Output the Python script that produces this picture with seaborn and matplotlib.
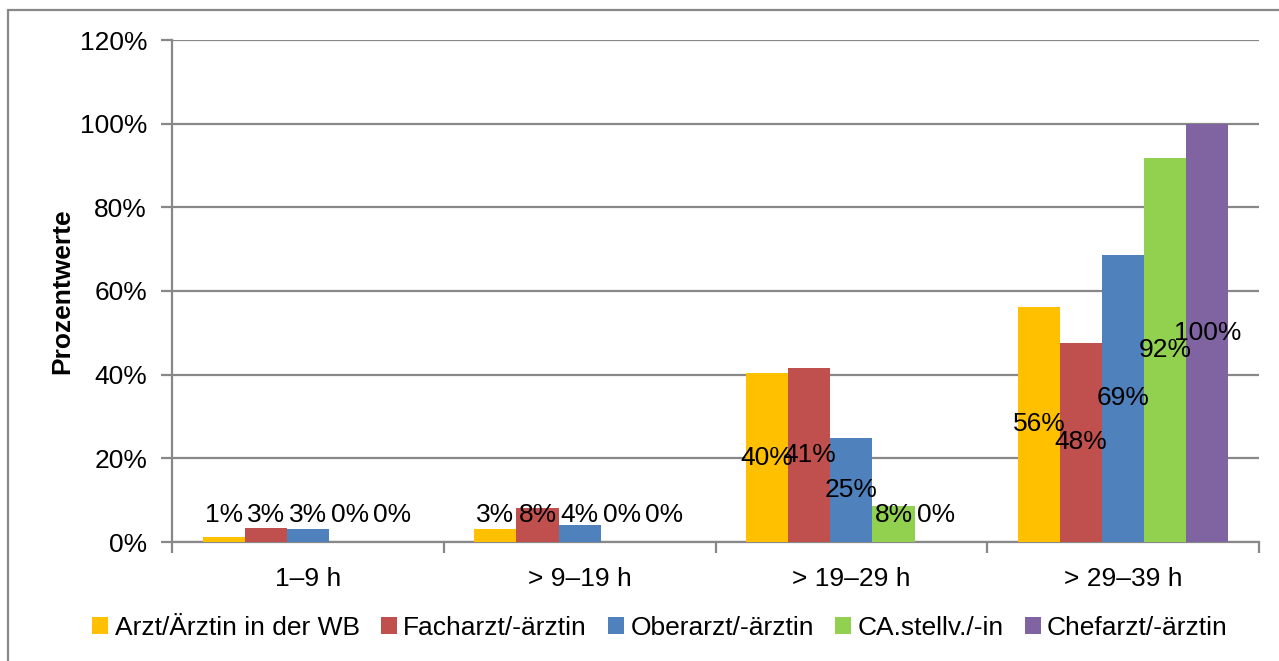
import pandas as pd
import numpy as np
import matplotlib.pyplot as plt
import seaborn as sns
from matplotlib.patches import Rectangle

# Data (percent)
categories = ['1–9 h', '> 9–19 h', '> 19–29 h', '> 29–39 h']
groups = ['Arzt/Ärztin in der WB', 'Facharzt/-ärztin', 'Oberarzt/-ärztin',
          'CA.stellv./-in', 'Chefarzt/-ärztin']
arzt_wb = [1.1, 3.0, 40.3, 56.2]
facharzt = [3.3, 8.2, 41.5, 47.6]
oberarzt = [3.0, 4.1, 24.9, 68.7]
ca_stellv = [0.0, 0.0, 8.6, 91.8]
chefarzt = [0.0, 0.0, 0.0, 100.0]
labels = [['1%', '3%', '40%', '56%'],
          ['3%', '8%', '41%', '48%'],
          ['3%', '4%', '25%', '69%'],
          ['0%', '0%', '8%', '92%'],
          ['0%', '0%', '0%', '100%']]
colors = ['#FFC000', '#C0504D', '#4F81BD', '#92D050', '#8064A2']

series = [arzt_wb, facharzt, oberarzt, ca_stellv, chefarzt]
rows = []
for g, vals in zip(groups, series):
    for c, v in zip(categories, vals):
        rows.append({'Kategorie': c, 'Gruppe': g, 'Wert': v})
df = pd.DataFrame(rows)

sns.set_style('white')
plt.rcParams['font.family'] = ['Liberation Sans', 'DejaVu Sans']
plt.rcParams['text.color'] = 'black'
plt.rcParams['xtick.color'] = 'black'
plt.rcParams['ytick.color'] = 'black'
plt.rcParams['axes.labelcolor'] = 'black'

FS = 19

fig = plt.figure(figsize=(12.79, 6.61), dpi=100)
ax = fig.add_axes([172 / 1279, 1 - 542 / 661, 1087 / 1279, 502 / 661])

sns.barplot(data=df, x='Kategorie', y='Wert', hue='Gruppe', palette=colors,
            order=categories, hue_order=groups, width=0.775, saturation=1,
            edgecolor='none', linewidth=0, ax=ax, zorder=3)

# data labels, centered in bar (pushed up for small bars like Excel)
for cont, vals, labs in zip(ax.containers, series, labels):
    for patch, v, lab in zip(cont.patches, vals, labs):
        x = patch.get_x() + patch.get_width() / 2
        y = max(v / 2, 6.4)
        ax.text(x, y, lab, ha='center', va='center', fontsize=FS, zorder=5)

grid_c = '#888888'
ax.set_ylim(0, 120)
ax.set_xlim(-0.5, 3.5)
ax.set_yticks(np.arange(0, 121, 20))
ax.set_yticklabels([f'{t}%' for t in range(0, 121, 20)], fontsize=FS)
ax.yaxis.grid(True, color=grid_c, linewidth=1.6, zorder=0)
ax.xaxis.grid(False)
ax.set_axisbelow(True)

# category labels at centres, tick marks at boundaries
ax.set_xticks(np.arange(-0.5, 3.6, 1.0))
ax.set_xticklabels([])
ax.set_xticks(np.arange(0, 4), minor=True)
ax.set_xticklabels(categories, minor=True, fontsize=FS)
ax.tick_params(axis='x', which='major', direction='out', length=8, width=1.6,
               color=grid_c, bottom=True)
ax.tick_params(axis='x', which='minor', length=0, pad=18)
ax.tick_params(axis='y', direction='out', length=8, width=1.6, color=grid_c,
               left=True, pad=10)

for s in ['top', 'right']:
    ax.spines[s].set_visible(False)
for s in ['left', 'bottom']:
    ax.spines[s].set_color(grid_c)
    ax.spines[s].set_linewidth(1.6)

ax.set_xlabel('')
ax.set_ylabel('Prozentwerte', fontsize=FS, fontweight='bold', labelpad=4)

handles, lbls = ax.get_legend_handles_labels()
ax.legend(handles, lbls, loc='center', bbox_to_anchor=(660 / 1279, 1 - 628 / 661),
          bbox_transform=fig.transFigure, ncol=5, frameon=False, fontsize=FS,
          handlelength=0.6, handleheight=0.6, handletextpad=0.25,
          columnspacing=0.8)

# chart area border (right/bottom edges fall outside the image)
fig.patches.append(Rectangle((8 / 1279, -0.1), 1.2, 1.1 - 10 / 661,
                             transform=fig.transFigure, fill=False,
                             edgecolor=grid_c, linewidth=1.6))

fig.savefig('out.png', dpi=100)
